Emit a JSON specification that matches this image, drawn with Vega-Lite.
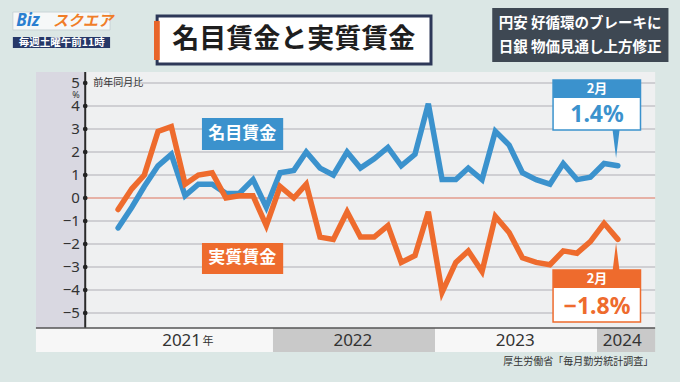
{
  "$schema": "https://vega.github.io/schema/vega-lite/v6.json",
  "width": 680,
  "height": 382,
  "autosize": {"type": "fit", "contains": "padding"},
  "padding": 0,
  "background": "#dbe7e5",
  "config": {"view": {"stroke": null}, "text": {"font": "Noto Sans CJK JP"}},
  "encoding": {
    "x": {"field": "date", "type": "temporal", "scale": {"domain": ["2020-04-10", "2024-06-20"], "nice": false}, "axis": null},
    "y": {"field": "v", "type": "quantitative", "scale": {"domain": [-8.0, 8.609], "nice": false, "zero": false}, "axis": null}
  },
  "layer": [
    {
      "data": {"values": [{"date": "2020-06-30", "date2": "2024-04-25", "v": 5.478, "v2": -5.652}]},
      "mark": {"type": "rect", "fill": "#eff0f1"},
      "encoding": {"x2": {"field": "date2"}, "y2": {"field": "v2"}}
    },
    {
      "data": {"values": [{"date": "2020-06-30", "date2": "2020-10-19", "v": 5.478, "v2": -5.652}]},
      "mark": {"type": "rect", "fill": "#d9d8e1"},
      "encoding": {"x2": {"field": "date2"}, "y2": {"field": "v2"}}
    },
    {
      "data": {"values": [
        {"date": "2020-11-25", "date2": "2024-04-25", "v": 5},
        {"date": "2020-10-19", "date2": "2024-04-25", "v": 4},
        {"date": "2020-10-19", "date2": "2024-04-25", "v": 3},
        {"date": "2020-10-19", "date2": "2024-04-25", "v": 2},
        {"date": "2020-10-19", "date2": "2024-04-25", "v": 1},
        {"date": "2020-10-19", "date2": "2024-04-25", "v": -1},
        {"date": "2020-10-19", "date2": "2024-04-25", "v": -2},
        {"date": "2020-10-19", "date2": "2024-04-25", "v": -3},
        {"date": "2020-10-19", "date2": "2024-04-25", "v": -4},
        {"date": "2020-10-19", "date2": "2024-04-25", "v": -5}
      ]},
      "mark": {"type": "rule", "color": "#c5c5c8", "strokeWidth": 1.5},
      "encoding": {"x2": {"field": "date2"}}
    },
    {
      "data": {"values": [{"date": "2020-10-19", "date2": "2024-04-25", "v": 0}]},
      "mark": {"type": "rule", "color": "#e39c8c", "strokeWidth": 1.5},
      "encoding": {"x2": {"field": "date2"}}
    },
    {
      "data": {"values": [{"date": "2020-10-19", "v": 5.478, "v2": -5.652}]},
      "mark": {"type": "rule", "color": "#2a2a2a", "strokeWidth": 2},
      "encoding": {"y2": {"field": "v2"}}
    },
    {
      "data": {"values": [
        {"date": "2020-10-19", "v": 5}, {"date": "2020-10-19", "v": 4}, {"date": "2020-10-19", "v": 3},
        {"date": "2020-10-19", "v": 2}, {"date": "2020-10-19", "v": 1}, {"date": "2020-10-19", "v": 0},
        {"date": "2020-10-19", "v": -1}, {"date": "2020-10-19", "v": -2}, {"date": "2020-10-19", "v": -3},
        {"date": "2020-10-19", "v": -4}, {"date": "2020-10-19", "v": -5}
      ]},
      "mark": {"type": "point", "filled": true, "color": "#222222", "size": 22, "opacity": 1}
    },
    {
      "data": {"values": [
        {"date": "2020-10-07", "v": 5, "t": "5"}, {"date": "2020-10-07", "v": 4, "t": "4"},
        {"date": "2020-10-07", "v": 3, "t": "3"}, {"date": "2020-10-07", "v": 2, "t": "2"},
        {"date": "2020-10-07", "v": 1, "t": "1"}, {"date": "2020-10-07", "v": 0, "t": "0"},
        {"date": "2020-10-07", "v": -1, "t": "−1"}, {"date": "2020-10-07", "v": -2, "t": "−2"},
        {"date": "2020-10-07", "v": -3, "t": "−3"}, {"date": "2020-10-07", "v": -4, "t": "−4"},
        {"date": "2020-10-07", "v": -5, "t": "−5"}
      ]},
      "mark": {"type": "text", "align": "right", "baseline": "middle", "font": "Noto Sans", "fontSize": 15, "color": "#333333"},
      "encoding": {"text": {"field": "t"}}
    },
    {
      "data": {"values": [{"date": "2020-09-28", "v": 4.5, "t": "%"}]},
      "mark": {"type": "text", "align": "center", "baseline": "middle", "font": "Noto Sans", "fontSize": 9, "color": "#333333"},
      "encoding": {"text": {"field": "t"}}
    },
    {
      "data": {"values": [{"date": "2020-11-06", "v": 5.0, "t": "前年同月比"}]},
      "mark": {"type": "text", "align": "left", "baseline": "middle", "fontSize": 10, "color": "#333333"},
      "encoding": {"text": {"field": "t"}}
    },
    {
      "data": {"values": [
        {"date": "2021-01-01", "series": "名目賃金", "v": -1.3}, {"date": "2021-02-01", "series": "名目賃金", "v": -0.4},
        {"date": "2021-03-01", "series": "名目賃金", "v": 0.5}, {"date": "2021-04-01", "series": "名目賃金", "v": 1.4},
        {"date": "2021-05-01", "series": "名目賃金", "v": 1.9}, {"date": "2021-06-01", "series": "名目賃金", "v": 0.1},
        {"date": "2021-07-01", "series": "名目賃金", "v": 0.6}, {"date": "2021-08-01", "series": "名目賃金", "v": 0.6},
        {"date": "2021-09-01", "series": "名目賃金", "v": 0.2}, {"date": "2021-10-01", "series": "名目賃金", "v": 0.2},
        {"date": "2021-11-01", "series": "名目賃金", "v": 0.8}, {"date": "2021-12-01", "series": "名目賃金", "v": -0.4},
        {"date": "2022-01-01", "series": "名目賃金", "v": 1.1}, {"date": "2022-02-01", "series": "名目賃金", "v": 1.2},
        {"date": "2022-03-01", "series": "名目賃金", "v": 2.0}, {"date": "2022-04-01", "series": "名目賃金", "v": 1.3},
        {"date": "2022-05-01", "series": "名目賃金", "v": 1.0}, {"date": "2022-06-01", "series": "名目賃金", "v": 2.0},
        {"date": "2022-07-01", "series": "名目賃金", "v": 1.3}, {"date": "2022-08-01", "series": "名目賃金", "v": 1.7},
        {"date": "2022-09-01", "series": "名目賃金", "v": 2.2}, {"date": "2022-10-01", "series": "名目賃金", "v": 1.4},
        {"date": "2022-11-01", "series": "名目賃金", "v": 1.9}, {"date": "2022-12-01", "series": "名目賃金", "v": 4.1},
        {"date": "2023-01-01", "series": "名目賃金", "v": 0.8}, {"date": "2023-02-01", "series": "名目賃金", "v": 0.8},
        {"date": "2023-03-01", "series": "名目賃金", "v": 1.3}, {"date": "2023-04-01", "series": "名目賃金", "v": 0.8},
        {"date": "2023-05-01", "series": "名目賃金", "v": 2.9}, {"date": "2023-06-01", "series": "名目賃金", "v": 2.3},
        {"date": "2023-07-01", "series": "名目賃金", "v": 1.1}, {"date": "2023-08-01", "series": "名目賃金", "v": 0.8},
        {"date": "2023-09-01", "series": "名目賃金", "v": 0.6}, {"date": "2023-10-01", "series": "名目賃金", "v": 1.5},
        {"date": "2023-11-01", "series": "名目賃金", "v": 0.8}, {"date": "2023-12-01", "series": "名目賃金", "v": 0.9},
        {"date": "2024-01-01", "series": "名目賃金", "v": 1.5}, {"date": "2024-02-01", "series": "名目賃金", "v": 1.4},
        {"date": "2021-01-01", "series": "実質賃金", "v": -0.5}, {"date": "2021-02-01", "series": "実質賃金", "v": 0.4},
        {"date": "2021-03-01", "series": "実質賃金", "v": 1.0}, {"date": "2021-04-01", "series": "実質賃金", "v": 2.9},
        {"date": "2021-05-01", "series": "実質賃金", "v": 3.1}, {"date": "2021-06-01", "series": "実質賃金", "v": 0.6},
        {"date": "2021-07-01", "series": "実質賃金", "v": 1.0}, {"date": "2021-08-01", "series": "実質賃金", "v": 1.1},
        {"date": "2021-09-01", "series": "実質賃金", "v": 0.0}, {"date": "2021-10-01", "series": "実質賃金", "v": 0.1},
        {"date": "2021-11-01", "series": "実質賃金", "v": 0.1}, {"date": "2021-12-01", "series": "実質賃金", "v": -1.2},
        {"date": "2022-01-01", "series": "実質賃金", "v": 0.5}, {"date": "2022-02-01", "series": "実質賃金", "v": 0.0},
        {"date": "2022-03-01", "series": "実質賃金", "v": 0.6}, {"date": "2022-04-01", "series": "実質賃金", "v": -1.7},
        {"date": "2022-05-01", "series": "実質賃金", "v": -1.8}, {"date": "2022-06-01", "series": "実質賃金", "v": -0.6},
        {"date": "2022-07-01", "series": "実質賃金", "v": -1.7}, {"date": "2022-08-01", "series": "実質賃金", "v": -1.7},
        {"date": "2022-09-01", "series": "実質賃金", "v": -1.2}, {"date": "2022-10-01", "series": "実質賃金", "v": -2.8},
        {"date": "2022-11-01", "series": "実質賃金", "v": -2.5}, {"date": "2022-12-01", "series": "実質賃金", "v": -0.6},
        {"date": "2023-01-01", "series": "実質賃金", "v": -4.1}, {"date": "2023-02-01", "series": "実質賃金", "v": -2.8},
        {"date": "2023-03-01", "series": "実質賃金", "v": -2.3}, {"date": "2023-04-01", "series": "実質賃金", "v": -3.2},
        {"date": "2023-05-01", "series": "実質賃金", "v": -0.8}, {"date": "2023-06-01", "series": "実質賃金", "v": -1.5},
        {"date": "2023-07-01", "series": "実質賃金", "v": -2.6}, {"date": "2023-08-01", "series": "実質賃金", "v": -2.8},
        {"date": "2023-09-01", "series": "実質賃金", "v": -2.9}, {"date": "2023-10-01", "series": "実質賃金", "v": -2.3},
        {"date": "2023-11-01", "series": "実質賃金", "v": -2.4}, {"date": "2023-12-01", "series": "実質賃金", "v": -1.9},
        {"date": "2024-01-01", "series": "実質賃金", "v": -1.1}, {"date": "2024-02-01", "series": "実質賃金", "v": -1.8}
      ]},
      "mark": {"type": "line", "strokeWidth": 5.5, "strokeJoin": "miter", "strokeCap": "round"},
      "encoding": {
        "color": {"field": "series", "type": "nominal", "scale": {"domain": ["名目賃金", "実質賃金"], "range": ["#3b92cd", "#ee6b2d"]}, "legend": null}
      }
    },
    {
      "data": {"values": [{"date": "2021-07-09", "date2": "2022-01-08", "v": 3.478, "v2": 2.087}]},
      "mark": {"type": "rect", "fill": "#3b92cd"},
      "encoding": {"x2": {"field": "date2"}, "y2": {"field": "v2"}}
    },
    {
      "data": {"values": [{"date": "2021-07-09", "date2": "2022-01-08", "v": -1.957, "v2": -3.304}]},
      "mark": {"type": "rect", "fill": "#ee6b2d"},
      "encoding": {"x2": {"field": "date2"}, "y2": {"field": "v2"}}
    },
    {
      "data": {"values": [{"date": "2021-10-08", "v": 2.78, "t": "名目賃金"}, {"date": "2021-10-08", "v": -2.63, "t": "実質賃金"}]},
      "mark": {"type": "text", "align": "center", "baseline": "middle", "fontSize": 17, "fontWeight": "bold", "color": "#ffffff"},
      "encoding": {"text": {"field": "t"}}
    },
    {
      "data": {"values": [{"date": "2024-01-28", "v": 2.35}]},
      "mark": {"type": "point", "shape": "M-0.25,-1L0.25,-1L0,1Z", "filled": true, "color": "#3b92cd", "size": 784, "opacity": 1}
    },
    {
      "data": {"values": [{"date": "2024-01-28", "v": -2.54}]},
      "mark": {"type": "point", "shape": "M-0.25,1L0.25,1L0,-1Z", "filled": true, "color": "#ee6b2d", "size": 729, "opacity": 1}
    },
    {
      "data": {"values": [{"date": "2023-09-08", "date2": "2024-03-23", "v": 5.13, "v2": 2.957}]},
      "mark": {"type": "rect", "fill": "#ffffff", "stroke": "#3b92cd", "strokeWidth": 1.5},
      "encoding": {"x2": {"field": "date2"}, "y2": {"field": "v2"}}
    },
    {
      "data": {"values": [{"date": "2023-09-08", "date2": "2024-03-23", "v": 5.13, "v2": 4.348}]},
      "mark": {"type": "rect", "fill": "#3b92cd"},
      "encoding": {"x2": {"field": "date2"}, "y2": {"field": "v2"}}
    },
    {
      "data": {"values": [{"date": "2023-09-08", "date2": "2024-03-23", "v": -3.13, "v2": -5.391}]},
      "mark": {"type": "rect", "fill": "#ffffff", "stroke": "#ee6b2d", "strokeWidth": 1.5},
      "encoding": {"x2": {"field": "date2"}, "y2": {"field": "v2"}}
    },
    {
      "data": {"values": [{"date": "2023-09-08", "date2": "2024-03-23", "v": -3.13, "v2": -3.913}]},
      "mark": {"type": "rect", "fill": "#ee6b2d"},
      "encoding": {"x2": {"field": "date2"}, "y2": {"field": "v2"}}
    },
    {
      "data": {"values": [{"date": "2023-12-16", "v": 4.74, "t": "2月"}, {"date": "2023-12-16", "v": -3.52, "t": "2月"}]},
      "mark": {"type": "text", "align": "center", "baseline": "middle", "fontSize": 13, "fontWeight": "bold", "color": "#ffffff"},
      "encoding": {"text": {"field": "t"}}
    },
    {
      "data": {"values": [{"date": "2023-12-16", "v": 3.6, "t": "1.4%"}]},
      "mark": {"type": "text", "align": "center", "baseline": "middle", "font": "Noto Sans", "fontSize": 23, "fontWeight": "bold", "color": "#3b92cd"},
      "encoding": {"text": {"field": "t"}}
    },
    {
      "data": {"values": [{"date": "2023-12-16", "v": -4.72, "t": "−1.8%"}]},
      "mark": {"type": "text", "align": "center", "baseline": "middle", "font": "Noto Sans", "fontSize": 23, "fontWeight": "bold", "color": "#ee6b2d"},
      "encoding": {"text": {"field": "t"}}
    },
    {
      "data": {"values": [
        {"date": "2020-06-30", "date2": "2021-12-16", "v": -5.652, "v2": -6.696},
        {"date": "2022-12-16", "date2": "2023-12-16", "v": -5.652, "v2": -6.696}
      ]},
      "mark": {"type": "rect", "fill": "#f7f7f7"},
      "encoding": {"x2": {"field": "date2"}, "y2": {"field": "v2"}}
    },
    {
      "data": {"values": [
        {"date": "2021-12-16", "date2": "2022-12-16", "v": -5.652, "v2": -6.696},
        {"date": "2023-12-16", "date2": "2024-04-25", "v": -5.652, "v2": -6.696}
      ]},
      "mark": {"type": "rect", "fill": "#c9c9c9"},
      "encoding": {"x2": {"field": "date2"}, "y2": {"field": "v2"}}
    },
    {
      "data": {"values": [{"date": "2020-06-30", "date2": "2024-04-25", "v": -5.652}]},
      "mark": {"type": "rule", "color": "#555555", "strokeWidth": 1.5},
      "encoding": {"x2": {"field": "date2"}}
    },
    {
      "data": {"values": [{"date": "2021-07-07", "v": -6.2, "t": "2021"}]},
      "mark": {"type": "text", "align": "right", "baseline": "middle", "font": "Noto Sans", "fontSize": 17, "color": "#333333"},
      "encoding": {"text": {"field": "t"}}
    },
    {
      "data": {"values": [{"date": "2021-07-10", "v": -6.27, "t": "年"}]},
      "mark": {"type": "text", "align": "left", "baseline": "middle", "fontSize": 11, "color": "#333333"},
      "encoding": {"text": {"field": "t"}}
    },
    {
      "data": {"values": [{"date": "2022-06-14", "v": -6.2, "t": "2022"}, {"date": "2023-06-15", "v": -6.2, "t": "2023"}, {"date": "2024-02-11", "v": -6.2, "t": "2024"}]},
      "mark": {"type": "text", "align": "center", "baseline": "middle", "font": "Noto Sans", "fontSize": 17, "color": "#333333"},
      "encoding": {"text": {"field": "t"}}
    },
    {
      "data": {"values": [{"date": "2024-04-21", "v": -7.13, "t": "厚生労働省「毎月勤労統計調査」"}]},
      "mark": {"type": "text", "align": "right", "baseline": "middle", "fontSize": 10, "color": "#333333"},
      "encoding": {"text": {"field": "t"}}
    },
    {
      "data": {"values": [{"date": "2020-05-09", "date2": "2020-12-14", "v": 8.087, "v2": 7.304}]},
      "mark": {"type": "rect", "fill": "#f6f8f8", "stroke": "#c9d4d6", "strokeWidth": 1},
      "encoding": {"x2": {"field": "date2"}, "y2": {"field": "v2"}}
    },
    {
      "data": {"values": [{"date": "2020-06-12", "v": 7.7, "t": "Biz"}]},
      "mark": {"type": "text", "align": "center", "baseline": "middle", "font": "Noto Sans", "fontSize": 17, "fontWeight": "bold", "fontStyle": "italic", "color": "#2b7fd0"},
      "encoding": {"text": {"field": "t"}}
    },
    {
      "data": {"values": [{"date": "2020-10-14", "v": 7.7, "t": "スクエア"}]},
      "mark": {"type": "text", "align": "center", "baseline": "middle", "fontSize": 15, "fontWeight": "bold", "fontStyle": "italic", "color": "#f07d28"},
      "encoding": {"text": {"field": "t"}}
    },
    {
      "data": {"values": [{"date": "2020-05-09", "date2": "2020-12-14", "v": 7.0, "v2": 6.52}]},
      "mark": {"type": "rect", "fill": "#263868"},
      "encoding": {"x2": {"field": "date2"}, "y2": {"field": "v2"}}
    },
    {
      "data": {"values": [{"date": "2020-08-27", "v": 6.76, "t": "毎週土曜午前11時"}]},
      "mark": {"type": "text", "align": "center", "baseline": "middle", "fontSize": 10.5, "fontWeight": "bold", "color": "#ffffff"},
      "encoding": {"text": {"field": "t"}}
    },
    {
      "data": {"values": [{"date": "2021-03-30", "date2": "2022-12-07", "v": 7.913, "v2": 5.826}]},
      "mark": {"type": "rect", "fill": "#ffffff", "stroke": "#2d3858", "strokeWidth": 3},
      "encoding": {"x2": {"field": "date2"}, "y2": {"field": "v2"}}
    },
    {
      "data": {"values": [{"date": "2021-03-23", "date2": "2021-04-05", "v": 7.7, "v2": 6.0}]},
      "mark": {"type": "rect", "fill": "#e8652a"},
      "encoding": {"x2": {"field": "date2"}, "y2": {"field": "v2"}}
    },
    {
      "data": {"values": [{"date": "2022-02-01", "v": 6.87, "t": "名目賃金と実質賃金"}]},
      "mark": {"type": "text", "align": "center", "baseline": "middle", "fontSize": 27, "fontWeight": "bold", "color": "#1e1e1e"},
      "encoding": {"text": {"field": "t"}}
    },
    {
      "data": {"values": [{"date": "2023-04-24", "date2": "2024-05-25", "v": 8.261, "v2": 5.913}]},
      "mark": {"type": "rect", "fill": "#3e4853"},
      "encoding": {"x2": {"field": "date2"}, "y2": {"field": "v2"}}
    },
    {
      "data": {"values": [{"date": "2023-11-08", "v": 7.56, "t": "円安 好循環のブレーキに"}, {"date": "2023-11-08", "v": 6.52, "t": "日銀 物価見通し上方修正"}]},
      "mark": {"type": "text", "align": "center", "baseline": "middle", "fontSize": 14.5, "fontWeight": "bold", "color": "#ffffff"},
      "encoding": {"text": {"field": "t"}}
    }
  ]
}
